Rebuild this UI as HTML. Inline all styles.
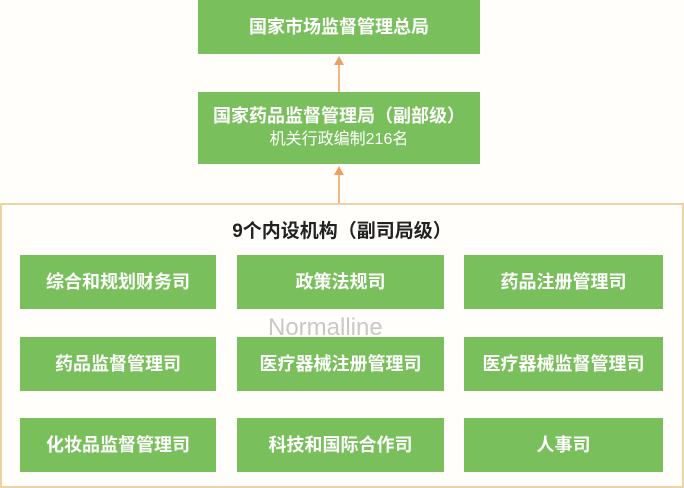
<!DOCTYPE html>
<html><head><meta charset="utf-8"><style>
body{margin:0;width:684px;height:488px;background:#fffefb;position:relative;overflow:hidden;font-family:"Liberation Sans","Noto Sans CJK SC",sans-serif}
.b{position:absolute;background:#79c05c;color:#fff;font-weight:bold;font-size:18px;display:flex;flex-direction:column;align-items:center;justify-content:center;text-align:center;line-height:23px}
.line{position:absolute;left:338px;width:2px;background:#f0b880}
.head{position:absolute;left:334px;width:0;height:0;border-left:5px solid transparent;border-right:5px solid transparent;border-bottom:9px solid #eda060}
</style></head><body>
<div class="b" style="left:198px;top:0;width:282px;height:54px">国家市场监督管理总局</div>
<div class="line" style="top:62px;height:30px"></div><div class="head" style="top:56px"></div>
<div class="b" style="left:198px;top:92px;width:282px;height:72px"><div>国家药品监督管理局（副部级）</div><div style="font-weight:normal;font-size:16px">机关行政编制216名</div></div>
<div class="line" style="top:172px;height:32px"></div><div class="head" style="top:166px"></div>
<div style="position:absolute;left:0;top:203px;width:680px;height:281px;border:2px solid #ebd3a4;background:#fffefb"></div>
<div style="position:absolute;left:0;top:216px;width:684px;text-align:center;font-weight:bold;font-size:19px;color:#222">9个内设机构（副司局级）</div>
<div class="b" style="left:20px;top:255px;width:196px;height:54px">综合和规划财务司</div>
<div class="b" style="left:237px;top:255px;width:207px;height:54px">政策法规司</div>
<div class="b" style="left:464px;top:255px;width:199px;height:54px">药品注册管理司</div>
<div class="b" style="left:20px;top:337px;width:196px;height:54px">药品监督管理司</div>
<div class="b" style="left:237px;top:337px;width:207px;height:54px">医疗器械注册管理司</div>
<div class="b" style="left:464px;top:337px;width:199px;height:54px">医疗器械监督管理司</div>
<div class="b" style="left:20px;top:418px;width:196px;height:54px">化妆品监督管理司</div>
<div class="b" style="left:237px;top:418px;width:207px;height:54px">科技和国际合作司</div>
<div class="b" style="left:464px;top:418px;width:199px;height:54px">人事司</div>
<div style="position:absolute;left:268px;top:314px;font-size:24px;color:#c8c8c8">Normalline</div>
</body></html>
